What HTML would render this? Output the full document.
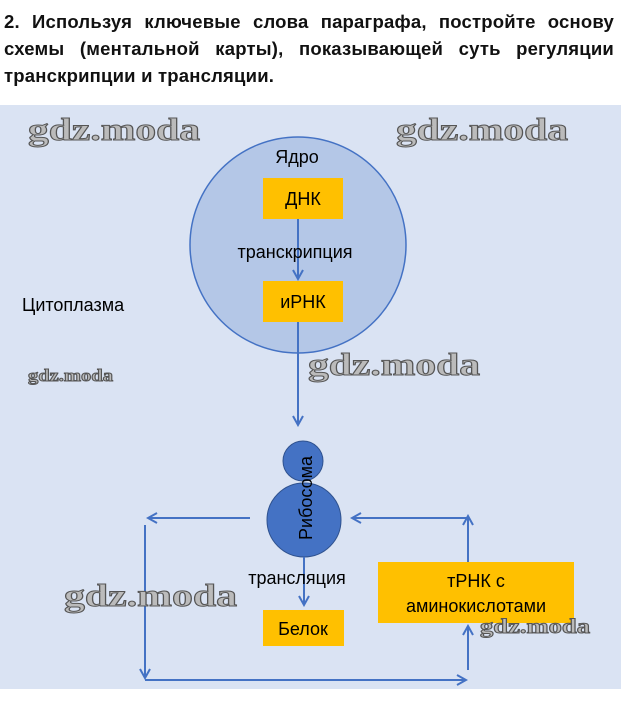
<!DOCTYPE html>
<html><head><meta charset="utf-8"><style>
body{margin:0;width:621px;height:726px;background:#fff;overflow:hidden;position:relative;font-family:"Liberation Sans",sans-serif}
.t{position:absolute;left:4px;top:8px;width:610px;font-weight:bold;font-size:18.5px;line-height:27px;text-align:justify;color:#111;letter-spacing:0.2px}
.wm{font-family:"Liberation Serif",serif;font-weight:bold;fill:#bbb;stroke:#555;stroke-width:1}
</style></head><body>
<div class="t">2. Используя ключевые слова параграфа, постройте основу схемы (ментальной карты), показывающей суть регуляции транскрипции и трансляции.</div>
<svg width="621" height="726" style="position:absolute;left:0;top:0" font-family="Liberation Sans, sans-serif">
<defs><marker id="a" markerWidth="12" markerHeight="12" refX="10" refY="6" orient="auto" markerUnits="userSpaceOnUse"><path d="M1,1 L10,6 L1,11" fill="none" stroke="#4472c4" stroke-width="2"/></marker></defs>
<rect x="0" y="105" width="621" height="584" fill="#dae3f3"/>
<circle cx="298" cy="245" r="108" fill="#b4c7e7" stroke="#4472c4" stroke-width="1.5"/>
<text x="297" y="163" font-size="18" text-anchor="middle">Ядро</text>
<rect x="263" y="178" width="80" height="41" fill="#ffc000"/>
<text x="303" y="205" font-size="18" text-anchor="middle">ДНК</text>
<line x1="298" y1="219" x2="298" y2="279" stroke="#4472c4" stroke-width="2" marker-end="url(#a)"/>
<text x="295" y="258" font-size="18" text-anchor="middle">транскрипция</text>
<rect x="263" y="281" width="80" height="41" fill="#ffc000"/>
<text x="303" y="308" font-size="18" text-anchor="middle">иРНК</text>
<text x="22" y="311" font-size="18">Цитоплазма</text>
<line x1="298" y1="322" x2="298" y2="425" stroke="#4472c4" stroke-width="2" marker-end="url(#a)"/>
<circle cx="303" cy="461" r="20" fill="#4472c4" stroke="#2f528f"/>
<circle cx="304" cy="520" r="37" fill="#4472c4" stroke="#2f528f"/>
<text transform="translate(312,498) rotate(-90)" font-size="18" text-anchor="middle">Рибосома</text>
<line x1="304" y1="557" x2="304" y2="605" stroke="#4472c4" stroke-width="2" marker-end="url(#a)"/>
<text x="297" y="584" font-size="18" text-anchor="middle">трансляция</text>
<rect x="263" y="610" width="81" height="36" fill="#ffc000"/>
<text x="303" y="635" font-size="18" text-anchor="middle">Белок</text>
<line x1="250" y1="518" x2="148" y2="518" stroke="#4472c4" stroke-width="2" marker-end="url(#a)"/>
<line x1="145" y1="525" x2="145" y2="678" stroke="#4472c4" stroke-width="2" marker-end="url(#a)"/>
<line x1="145" y1="680" x2="466" y2="680" stroke="#4472c4" stroke-width="2" marker-end="url(#a)"/>
<line x1="468" y1="670" x2="468" y2="626" stroke="#4472c4" stroke-width="2" marker-end="url(#a)"/>
<rect x="378" y="562" width="196" height="61" fill="#ffc000"/>
<text x="476" y="587" font-size="18" text-anchor="middle">тРНК с</text>
<text x="476" y="612" font-size="18" text-anchor="middle">аминокислотами</text>
<line x1="468" y1="562" x2="468" y2="516" stroke="#4472c4" stroke-width="2" marker-end="url(#a)"/>
<line x1="468" y1="518" x2="352" y2="518" stroke="#4472c4" stroke-width="2" marker-end="url(#a)"/>
<text class="wm" x="28" y="140" font-size="32" textLength="172" lengthAdjust="spacingAndGlyphs">gdz.moda</text>
<text class="wm" x="396" y="140" font-size="32" textLength="172" lengthAdjust="spacingAndGlyphs">gdz.moda</text>
<text class="wm" x="308" y="375" font-size="32" textLength="172" lengthAdjust="spacingAndGlyphs">gdz.moda</text>
<text class="wm" x="28" y="381" font-size="17" textLength="85" lengthAdjust="spacingAndGlyphs">gdz.moda</text>
<text class="wm" x="64" y="606" font-size="32" textLength="173" lengthAdjust="spacingAndGlyphs">gdz.moda</text>
<text class="wm" x="480" y="633" font-size="21" textLength="110" lengthAdjust="spacingAndGlyphs">gdz.moda</text>
</svg>
</body></html>
